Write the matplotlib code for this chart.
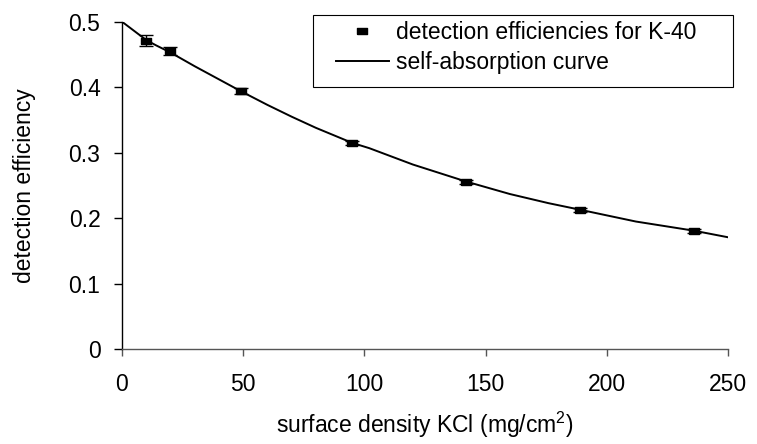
import numpy as np
import matplotlib.pyplot as plt
from matplotlib.lines import Line2D
from matplotlib.patches import Rectangle

plt.rcParams['font.family'] = ['Liberation Sans', 'DejaVu Sans']
plt.rcParams['mathtext.fontset'] = 'custom'
plt.rcParams['mathtext.rm'] = 'Liberation Sans'

# measured detection efficiencies (K-40)
dens = [10, 20, 49, 95, 142, 189, 236]
eff = [0.471, 0.455, 0.394, 0.315, 0.255, 0.213, 0.180]
eff_err = [0.008, 0.0065, 0.005, 0.003, 0.003, 0.003, 0.003]

# self-absorption curve
curve_x = [0, 10, 14, 20, 30, 40, 49, 60, 70, 80, 95, 102, 120, 142, 160, 176, 189, 212, 236, 250]
curve_y = [0.500, 0.472, 0.464, 0.453, 0.432, 0.412, 0.394, 0.373, 0.355, 0.338, 0.315, 0.307,
           0.282, 0.256, 0.237, 0.223, 0.213, 0.195, 0.181, 0.171]

xticks = [0, 50, 100, 150, 200, 250]
yticks = [0, 0.1, 0.2, 0.3, 0.4, 0.5]
ytick_labels = ['0', '0.1', '0.2', '0.3', '0.4', '0.5']

fs = 16.5
rect = [(-1, -0.55), (1, -0.55), (1, 0.55), (-1, 0.55), (-1, -0.55)]

W, H = 757, 444
fig = plt.figure(figsize=(W / 100, H / 100), dpi=100)
ax = fig.add_axes([122 / W, 1 - 349.3 / H, (728 - 122) / W, (349.3 - 21.7) / H])

ax.plot(curve_x, curve_y, color='black', lw=1.4, zorder=2)
ax.errorbar(dens, eff, yerr=eff_err, fmt='none', ecolor='black', elinewidth=1.0,
            capsize=5, capthick=1.0, zorder=3)
ax.plot(dens, eff, ls='none', marker=rect, ms=7.5, color='black', zorder=4)

ax.set_xlim(0, 250)
ax.set_ylim(0, 0.5)
ax.set_xticks(xticks)
ax.set_yticks(yticks)
ax.set_yticklabels(ytick_labels)
ax.spines['top'].set_visible(False)
ax.spines['right'].set_visible(False)
ax.spines['left'].set_linewidth(1.0)
ax.spines['bottom'].set_linewidth(1.0)
ax.spines['bottom'].set_color('#555555')
ax.tick_params(axis='x', direction='out', length=5, width=1, pad=12, labelsize=fs, color='#555555')
ax.tick_params(axis='y', direction='out', length=5.5, width=1, pad=10, labelsize=fs)

ax.set_xlabel('surface density KCl (mg/cm$^2$)', fontsize=fs, labelpad=10)
ax.set_ylabel('detection efficiency', fontsize=fs)
ax.yaxis.set_label_coords(-0.142, 0.5)

# legend box drawn by hand so the padding matches
fig.patches.append(Rectangle((313 / W, 1 - 87 / H), 420 / W, 72 / H, transform=fig.transFigure,
                             fill=False, edgecolor='black', lw=0.8))
handles = [Line2D([], [], ls='none', marker=rect, ms=7.5, color='black'),
           Line2D([], [], color='black', lw=1.4)]
fig.legend(handles, ['detection efficiencies for K-40', 'self-absorption curve'],
           loc='upper left', bbox_to_anchor=(336 / W, 1 - 21 / H),
           fontsize=fs, frameon=False, handlelength=2.3,
           borderpad=0, labelspacing=0.3, handletextpad=0.3, borderaxespad=0)

fig.savefig('out.png', dpi=100)
